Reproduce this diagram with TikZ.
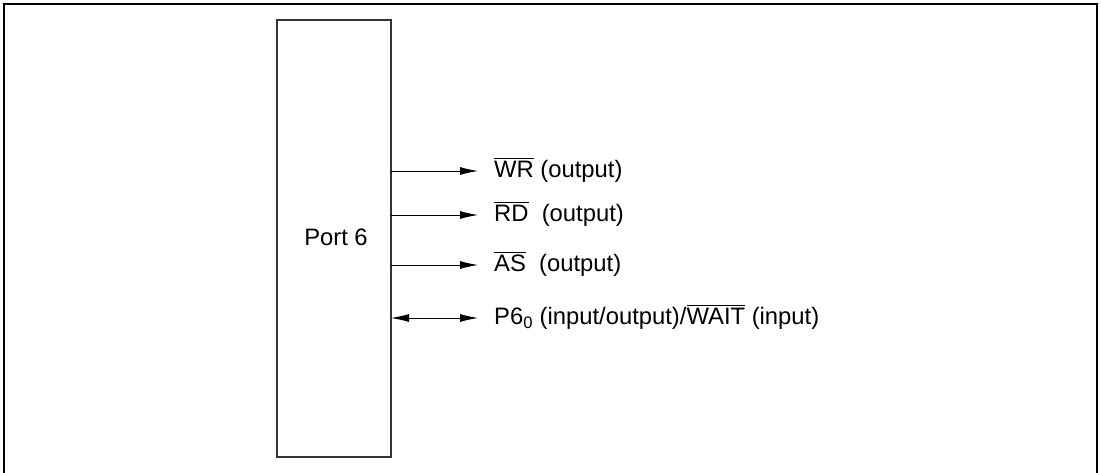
\documentclass[tikz,border=0pt]{standalone}
\usepackage{fontspec}
\setmainfont{Liberation Sans}
\usetikzlibrary{arrows.meta}
\newcommand{\ovl}[1]{$\overline{\hbox{\vrule width0pt height0.78em#1}}$}
\begin{document}
\begin{tikzpicture}[x=1pt,y=-1pt,
  sig/.style={line width=0.9pt,-{Latex[length=18pt,width=8pt]}},
  bisig/.style={line width=0.9pt,{Latex[length=18pt,width=8pt]}-{Latex[length=18pt,width=8pt]}},
  lbl/.style={anchor=west,inner sep=0pt,font=\fontsize{23.8}{27}\selectfont}]
\useasboundingbox (0,0) rectangle (1101,473);
% outer frame (bottom open)
\draw[line width=2pt] (4,480) -- (4,4) -- (1097,4) -- (1097,480);
% port box
\node[draw=black!80,line width=1.5pt,minimum width=114pt,minimum height=437pt,inner sep=0pt] (port) at (334,238.5) {};
\node[font=\fontsize{23.8}{27}\selectfont] (plabel) at (336,237) {Port 6};
% signals
\coordinate (s1) at (391,171);
\coordinate (s2) at (391,215);
\coordinate (s3) at (391,265);
\coordinate (s4) at (391,318);
\node[lbl] (t1) at (494,170) {\ovl{WR} (output)};
\node[lbl] (t2) at (494,214) {\ovl{RD}\ \ (output)};
\node[lbl] (t3) at (494,264) {\ovl{AS}\ \ (output)};
\node[lbl] (t4) at (494,317) {P6\textsubscript{0} (input/output)/\ovl{WAIT} (input)};
\draw[sig] (s1) -- ([xshift=-16pt]t1.west |- s1);
\draw[sig] (s2) -- ([xshift=-16pt]t2.west |- s2);
\draw[sig] (s3) -- ([xshift=-16pt]t3.west |- s3);
\draw[bisig] (s4) -- ([xshift=-16pt]t4.west |- s4);
\end{tikzpicture}
\end{document}
